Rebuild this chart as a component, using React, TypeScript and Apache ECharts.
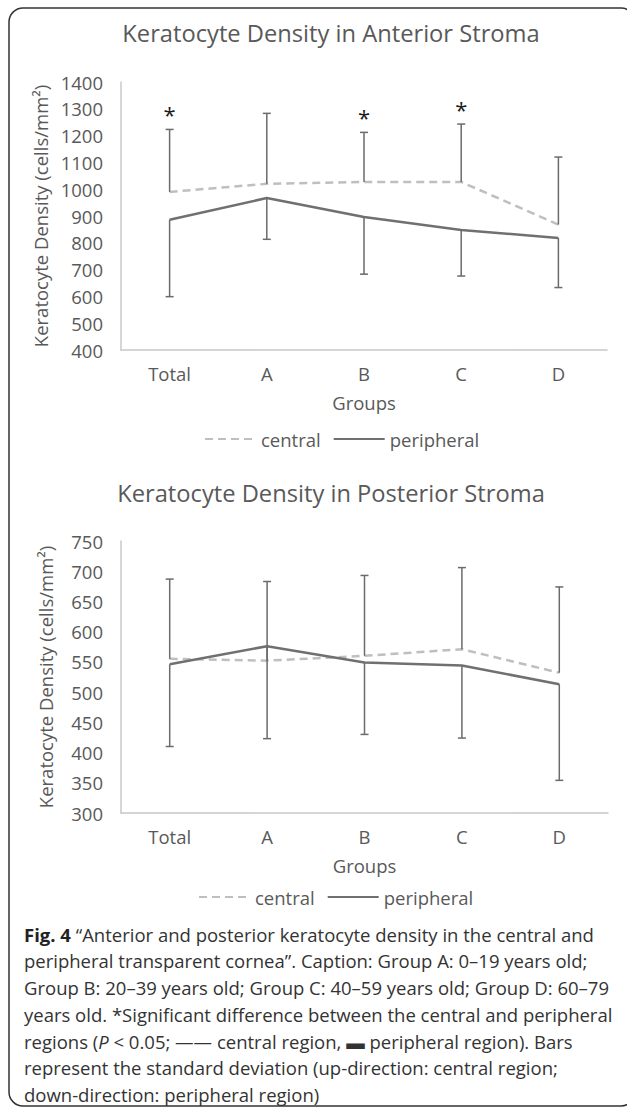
import React, { useEffect, useRef } from "react";
import * as echarts from "echarts";

const groups = ["Total", "A", "B", "C", "D"];

// Anterior stroma (cells/mm²)
const antCentral = [990, 1020, 1027, 1027, 868];
const antPeripheral = [886, 967, 896, 848, 818];
const antCentralUpper = [1223, 1283, 1212, 1243, 1120];
const antPeripheralLower = [599, 813, 683, 676, 633];
const antSignificant = [1, 0, 1, 1, 0];

// Posterior stroma (cells/mm²)
const postCentral = [555, 552, 560, 571, 532];
const postPeripheral = [546, 576, 549, 544, 513];
const postCentralUpper = [687, 683, 693, 706, 674];
const postPeripheralLower = [410, 423, 430, 424, 354];
const postSignificant = [0, 0, 0, 0, 0];

const titles = [
  "Keratocyte Density in Anterior Stroma",
  "Keratocyte Density in Posterior Stroma",
];
const yName = "Keratocyte Density (cells/mm²)";
const xName = "Groups";
const seriesNames = ["central", "peripheral"];

const captionLines = [
  "{b|Fig. 4} “Anterior and posterior keratocyte density in the central and",
  "peripheral transparent cornea”. Caption: Group A: 0–19 years old;",
  "Group B: 20–39 years old; Group C: 40–59 years old; Group D: 60–79",
  "years old. *Significant difference between the central and peripheral",
  "regions ({i|P} < 0.05; —— central region, ▬ peripheral region). Bars",
  "represent the standard deviation (up-direction: central region;",
  "down-direction: peripheral region)",
];

const FONT = "'Open Sans', 'Noto Sans', sans-serif";
const LABEL = "#595959";
const FS = 18.5;
const CAP_FS = 18.5;

const errorRender = (params: any, api: any) => {
  const i = api.value(0);
  const c = api.coord([i, api.value(1)]);
  const cu = api.coord([i, api.value(2)]);
  const p = api.coord([i, api.value(3)]);
  const pl = api.coord([i, api.value(4)]);
  const sig = api.value(5);
  const style = { stroke: "#6b6b6b", lineWidth: 1.5 };
  const children: any[] = [
    { type: "line", shape: { x1: c[0], y1: c[1], x2: cu[0], y2: cu[1] }, style },
    { type: "line", shape: { x1: cu[0] - 4, y1: cu[1], x2: cu[0] + 4, y2: cu[1] }, style },
    { type: "line", shape: { x1: p[0], y1: p[1], x2: pl[0], y2: pl[1] }, style },
    { type: "line", shape: { x1: pl[0] - 4, y1: pl[1], x2: pl[0] + 4, y2: pl[1] }, style },
  ];
  if (sig) {
    children.push({
      type: "text",
      x: cu[0],
      y: cu[1] - 15,
      style: {
        text: "*",
        fill: "#1a1a1a",
        font: `22px ${FONT}`,
        align: "center",
        verticalAlign: "middle",
      },
    });
  }
  return { type: "group", children };
};

function buildChart(
  gi: number,
  central: number[],
  peripheral: number[],
  upper: number[],
  lower: number[],
  sig: number[]
) {
  return [
    {
      name: seriesNames[0],
      type: "line",
      xAxisIndex: gi,
      yAxisIndex: gi,
      data: central,
      symbol: "none",
      lineStyle: { color: "#bfbfbf", width: 2.5, type: [8, 5] },
      itemStyle: { color: "#bfbfbf" },
      z: 2,
    },
    {
      name: seriesNames[1],
      type: "line",
      xAxisIndex: gi,
      yAxisIndex: gi,
      data: peripheral,
      symbol: "none",
      lineStyle: { color: "#707070", width: 2.5 },
      itemStyle: { color: "#707070" },
      z: 3,
    },
    {
      type: "custom",
      xAxisIndex: gi,
      yAxisIndex: gi,
      renderItem: errorRender,
      encode: { x: 0, y: [1, 2, 3, 4] },
      data: groups.map((g, i) => [i, central[i], upper[i], peripheral[i], lower[i], sig[i]]),
      z: 4,
    },
  ];
}

export default function App() {
  const ref = useRef<HTMLDivElement>(null);
  useEffect(() => {
    if (!ref.current) return;
    const chart = echarts.init(ref.current, null, { renderer: "svg" });
    const xAxisBase = (gi: number) => ({
      type: "category",
      gridIndex: gi,
      data: groups,
      boundaryGap: true,
      axisLine: { lineStyle: { color: "#c8c8c8", width: 1.5 } },
      axisTick: { show: false },
      axisLabel: { color: LABEL, fontSize: FS, fontFamily: FONT, margin: 14 },
      name: xName,
      nameLocation: "middle",
      nameGap: 43,
      nameTextStyle: { color: LABEL, fontSize: FS, fontFamily: FONT },
    });
    const yAxisBase = (gi: number, min: number, max: number, interval: number) => ({
      type: "value",
      gridIndex: gi,
      min,
      max,
      interval,
      axisLine: { show: true, lineStyle: { color: "#c8c8c8", width: 1.5 } },
      axisTick: { show: false },
      splitLine: { show: false },
      axisLabel: {
        color: LABEL,
        fontSize: FS,
        fontFamily: FONT,
        margin: 18,
        formatter: (v: number) => String(v),
      },
      name: yName,
      nameLocation: "middle",
      nameRotate: 90,
      nameGap: 66,
      nameTextStyle: { color: LABEL, fontSize: FS, fontFamily: FONT },
    });
    const legendBase = (left: number, top: number) => ({
      left,
      top,
      padding: 0,
      itemWidth: 51,
      itemHeight: 14,
      itemGap: 12,
      itemStyle: { opacity: 0 },
      textStyle: { color: LABEL, fontSize: FS, fontFamily: FONT, lineHeight: 22 },
      data: seriesNames,
    });
    const caption = captionLines.map((t, i) => ({
      type: "text",
      x: 24,
      y: 934 + i * 26.75,
      style: {
        text: t,
        fill: "#333333",
        font: `${CAP_FS}px ${FONT}`,
        verticalAlign: "middle",
        rich: {
          b: { fontWeight: "bold", fontSize: CAP_FS, fontFamily: FONT, fill: "#222222" },
          i: { fontStyle: "italic", fontSize: CAP_FS, fontFamily: FONT, fill: "#333333" },
        },
      },
    }));
    chart.setOption({
      animation: false,
      backgroundColor: "#ffffff",
      grid: [
        { left: 121, right: 20, top: 82, height: 268 },
        { left: 121, right: 19, top: 541, height: 272 },
      ],
      xAxis: [xAxisBase(0), xAxisBase(1)],
      yAxis: [yAxisBase(0, 400, 1400, 100), yAxisBase(1, 300, 750, 50)],
      legend: [legendBase(204, 428), legendBase(198, 886)],
      series: [
        ...buildChart(0, antCentral, antPeripheral, antCentralUpper, antPeripheralLower, antSignificant),
        ...buildChart(1, postCentral, postPeripheral, postCentralUpper, postPeripheralLower, postSignificant),
      ],
      graphic: [
        {
          type: "rect",
          shape: { x: 9, y: 8, width: 626, height: 1098, r: 14 },
          style: { fill: "none", stroke: "#333333", lineWidth: 1.5 },
          silent: true,
        },
        {
          type: "text",
          x: 331,
          y: 33,
          style: { text: titles[0], fill: LABEL, font: `23.7px ${FONT}`, align: "center", verticalAlign: "middle" },
        },
        {
          type: "text",
          x: 331,
          y: 493,
          style: { text: titles[1], fill: LABEL, font: `23.7px ${FONT}`, align: "center", verticalAlign: "middle" },
        },
        ...caption,
      ],
    });
    return () => chart.dispose();
  }, []);
  return (
    <div
      ref={ref}
      style={{ position: "absolute", left: 0, top: 0, width: 627, height: 1111, background: "#fff" }}
    />
  );
}
